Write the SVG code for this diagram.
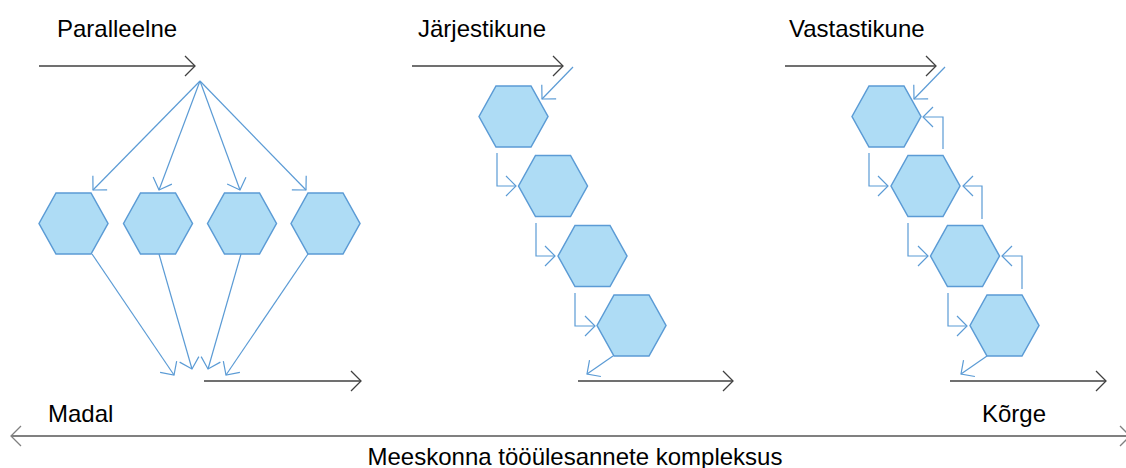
<svg xmlns="http://www.w3.org/2000/svg" xmlns:xlink="http://www.w3.org/1999/xlink" width="1126" height="468" viewBox="0 0 1126 468">
<style>
.hex{fill:#AEDCF5;stroke:#5B9BD5;stroke-width:1.5;stroke-linejoin:miter}
.blue{fill:none;stroke:#5B9BD5;stroke-width:1.2;marker-end:url(#ab)}
.dark{fill:none;stroke:#404040;stroke-width:1.3;marker-end:url(#ak)}
.axis{fill:none;stroke:#808080;stroke-width:2.2;marker-end:url(#ag);marker-start:url(#ag)}
text{font-family:"Liberation Sans",Arial,sans-serif;font-size:24px;fill:#000}
</style>
<defs>
<polygon id="hexshape" points="-34.5,0 -17.5,-30.5 17.5,-30.5 34.5,0 17.5,30.5 -17.5,30.5"/>
<marker id="ab" markerUnits="userSpaceOnUse" viewBox="-12 -12 14 24" refX="0" refY="0" markerWidth="14" markerHeight="24" orient="auto"><path d="M-10,-10 L0,0 L-10,10" fill="none" stroke="#5B9BD5" stroke-width="1.2"/></marker>
<marker id="ak" markerUnits="userSpaceOnUse" viewBox="-12 -12 14 24" refX="0" refY="0" markerWidth="14" markerHeight="24" orient="auto"><path d="M-10,-10 L0,0 L-10,10" fill="none" stroke="#404040" stroke-width="1.3"/></marker>
<marker id="ag" markerUnits="userSpaceOnUse" viewBox="-12 -12 14 24" refX="0" refY="0" markerWidth="14" markerHeight="24" orient="auto-start-reverse"><path d="M-10,-10 L0,0 L-10,10" fill="none" stroke="#808080" stroke-width="1.3"/></marker>
</defs>

<g id="titles">
<text x="57" y="37">Paralleelne</text>
<text x="418" y="37">Järjestikune</text>
<text x="789" y="37">Vastastikune</text>
<text x="48" y="422">Madal</text>
<text x="982" y="422">Kõrge</text>
<text x="575" y="465" text-anchor="middle">Meeskonna tööülesannete kompleksus</text>
</g>

<g id="p1-n1"><use xlink:href="#hexshape" class="hex" x="73.5" y="223.5"/></g>
<g id="p1-n2"><use xlink:href="#hexshape" class="hex" x="158" y="223.5"/></g>
<g id="p1-n3"><use xlink:href="#hexshape" class="hex" x="242" y="223.5"/></g>
<g id="p1-n4"><use xlink:href="#hexshape" class="hex" x="325.5" y="223.5"/></g>

<g id="p2-n1"><use xlink:href="#hexshape" class="hex" x="513.5" y="116.5"/></g>
<g id="p2-n2"><use xlink:href="#hexshape" class="hex" x="553" y="186"/></g>
<g id="p2-n3"><use xlink:href="#hexshape" class="hex" x="592.5" y="256"/></g>
<g id="p2-n4"><use xlink:href="#hexshape" class="hex" x="631.5" y="325.5"/></g>

<g id="p3-n1"><use xlink:href="#hexshape" class="hex" x="886.5" y="116.5"/></g>
<g id="p3-n2"><use xlink:href="#hexshape" class="hex" x="925.5" y="186"/></g>
<g id="p3-n3"><use xlink:href="#hexshape" class="hex" x="965" y="256"/></g>
<g id="p3-n4"><use xlink:href="#hexshape" class="hex" x="1004.5" y="325.5"/></g>

<g id="connectors">
<path class="dark" d="M39,66 H195"/>
<path class="blue" d="M200,81 L93,190"/>
<path class="blue" d="M200,81 L159,190"/>
<path class="blue" d="M200,81 L240,190"/>
<path class="blue" d="M200,81 L306,190"/>
<path class="blue" d="M92,254 L174,375"/>
<path class="blue" d="M159,254 L192,369"/>
<path class="blue" d="M241,254 L208,369"/>
<path class="blue" d="M308,254 L226,375"/>
<path class="dark" d="M204,381 H361"/>

<path class="dark" d="M412,66 H563"/>
<path class="blue" d="M573,67 L542,99"/>
<path class="blue" d="M497,153 V186 H516"/>
<path class="blue" d="M536,223 V256 H555"/>
<path class="blue" d="M575,293 V326 H595"/>
<path class="blue" d="M613,356 L587,374"/>
<path class="dark" d="M578,381 H733"/>

<path class="dark" d="M785,66 H936"/>
<path class="blue" d="M945,67 L914,99"/>
<path class="blue" d="M869,153 V186 H888"/>
<path class="blue" d="M908,223 V256 H928"/>
<path class="blue" d="M948,293 V326 H967"/>
<path class="blue" d="M943,149 V117 H923"/>
<path class="blue" d="M982,219 V186 H963"/>
<path class="blue" d="M1022,289 V256 H1002"/>
<path class="blue" d="M987,356 L961,374"/>
<path class="dark" d="M950,381 H1106"/>

<path class="axis" d="M11,436 H1130"/>
</g>
</svg>
